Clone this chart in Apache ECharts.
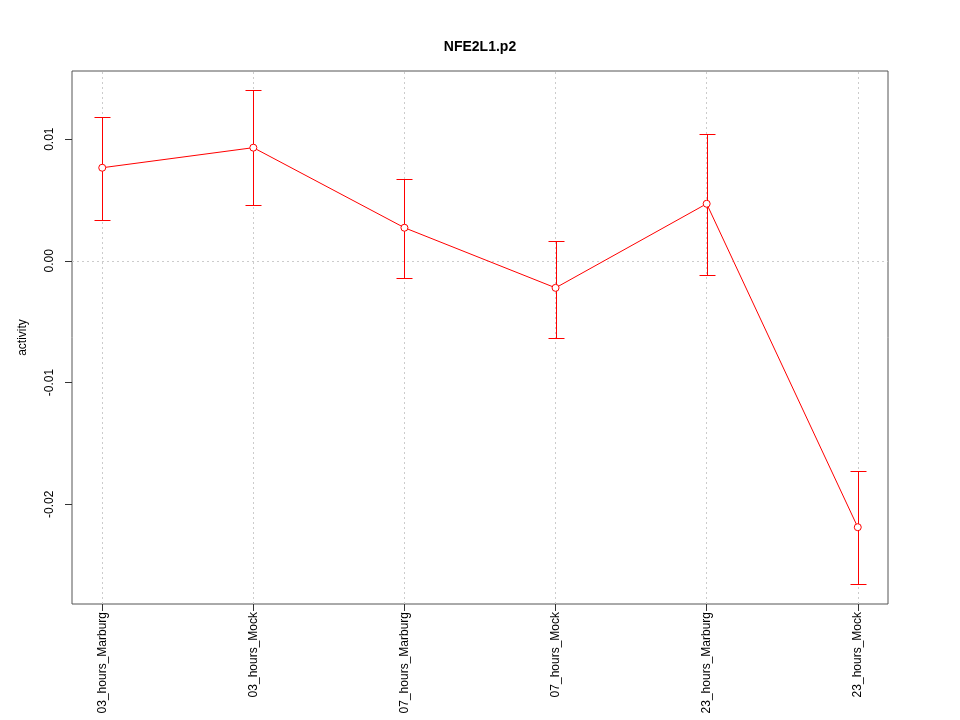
<!DOCTYPE html>
<html>
<head>
<meta charset="utf-8">
<script src="https://cdn.jsdelivr.net/npm/echarts@6/dist/echarts.min.js"></script>
<style>
  html, body { margin: 0; padding: 0; background: #fff; }
  #chart { width: 960px; height: 720px; }
</style>
</head>
<body>
<div id="chart"></div>
<script>
// values
var categories = ['03_hours_Marburg', '03_hours_Mock', '07_hours_Marburg', '07_hours_Mock', '23_hours_Marburg', '23_hours_Mock'];
var means = [0.00765, 0.0093, 0.00272, -0.00222, 0.00469, -0.02189];
var upper = [0.01185, 0.0140, 0.00675, 0.00165, 0.01045, -0.01728];
var lower = [0.00337, 0.0046, -0.0014, -0.00634, -0.00115, -0.02658];
var yTicks = [-0.02, -0.01, 0, 0.01];

var xIdx = categories.map(function (c, i) { return i; });
var font = 'Liberation Sans, Arial, sans-serif';

var myChart = echarts.init(document.getElementById('chart'));

var option = {
    backgroundColor: '#fff',
    animation: false,
    title: {
        text: 'NFE2L1.p2',
        left: 'center',
        top: 35,
        textStyle: { fontFamily: font, fontSize: 14, fontWeight: 'bold', color: '#000' }
    },
    grid: { left: 72, right: 72, top: 71, bottom: 116, show: true, borderColor: '#555', borderWidth: 1 },
    xAxis: {
        type: 'value',
        min: -0.2,
        max: 5.2,
        axisLine: { show: false, onZero: false },
        splitLine: { show: false },
        axisTick: { show: true, length: 7, customValues: xIdx, lineStyle: { color: '#333' } },
        axisLabel: {
            customValues: xIdx,
            rotate: 90,
            margin: 8,
            fontFamily: font,
            fontSize: 12,
            color: '#000',
            formatter: function (v) { return categories[Math.round(v)]; }
        }
    },
    yAxis: {
        type: 'value',
        min: -0.0282,
        max: 0.0156,
        name: 'activity',
        nameLocation: 'middle',
        nameGap: 43,
        nameRotate: 90,
        nameTextStyle: { fontFamily: font, fontSize: 12, color: '#000' },
        axisLine: { show: false, onZero: false },
        splitLine: { show: false },
        axisTick: { show: true, length: 7, customValues: yTicks, lineStyle: { color: '#333' } },
        axisLabel: {
            customValues: yTicks,
            rotate: 90,
            margin: 16,
            fontFamily: font,
            fontSize: 12,
            color: '#000',
            formatter: function (v) { return v.toFixed(2); }
        }
    },
    series: [
        {
            // dotted reference lines
            type: 'line',
            data: [],
            z: 1,
            markLine: {
                silent: true,
                z: 1,
                symbol: 'none',
                label: { show: false },
                lineStyle: { color: '#cccccc', type: [2, 3], width: 1 },
                data: xIdx.map(function (i) { return { xAxis: i }; }).concat([{ yAxis: 0 }])
            }
        },
        {
            type: 'line',
            data: means.map(function (m, i) { return [i, m]; }),
            symbol: 'circle',
            symbolSize: 7,
            lineStyle: { color: '#ff0000', width: 1 },
            itemStyle: { color: '#ffffff', borderColor: '#ff0000', borderWidth: 1 },
            emphasis: { disabled: true },
            z: 6
        },
        {
            type: 'custom',
            data: xIdx.map(function (i) { return [i, lower[i], upper[i]]; }),
            z: 5,
            renderItem: function (params, api) {
                var lo = api.coord([api.value(0), api.value(1)]);
                var hi = api.coord([api.value(0), api.value(2)]);
                var x = Math.round(lo[0]) + 0.5;
                var y1 = Math.round(lo[1]) + 0.5;
                var y2 = Math.round(hi[1]) + 0.5;
                var w = 8;
                var st = { stroke: '#ff0000', lineWidth: 1 };
                return {
                    type: 'group',
                    children: [
                        { type: 'line', shape: { x1: x, y1: y1, x2: x, y2: y2 }, style: st },
                        { type: 'line', shape: { x1: x - w, y1: y1, x2: x + w, y2: y1 }, style: st },
                        { type: 'line', shape: { x1: x - w, y1: y2, x2: x + w, y2: y2 }, style: st }
                    ]
                };
            }
        }
    ]
};

myChart.setOption(option);
</script>
</body>
</html>
